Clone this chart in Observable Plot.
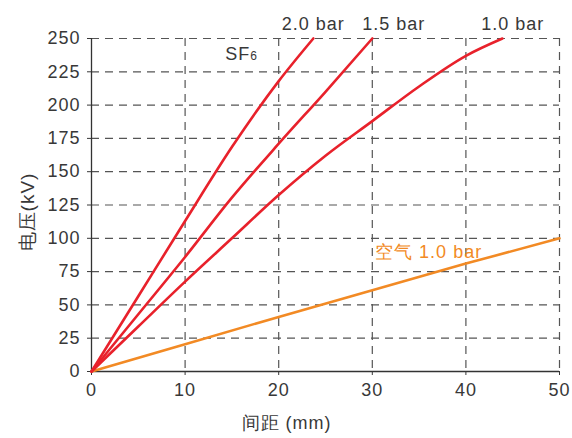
<!DOCTYPE html>
<html><head><meta charset="utf-8">
<script src="https://cdn.jsdelivr.net/npm/d3@7"></script>
<script src="https://cdn.jsdelivr.net/npm/@observablehq/plot@0.6"></script>
<style>
html,body{margin:0;padding:0;background:#fff;}
svg text{letter-spacing:1px;}
</style>
</head><body><div id="chart"></div>
<script>
// Tick values
const xTicks = [0, 10, 20, 30, 40, 50];
const yTicks = [0, 25, 50, 75, 100, 125, 150, 175, 200, 225, 250];

// SF6 2.0 bar
const sf6_20_gap = [0, 5, 10, 15, 20, 23.7];
const sf6_20_kv  = [0, 56.5, 113, 168.5, 218, 250];
// SF6 1.5 bar
const sf6_15_gap = [0, 5, 10, 15, 20, 25, 30];
const sf6_15_kv  = [0, 43, 86, 130.5, 171, 210, 250];
// SF6 1.0 bar
const sf6_10_gap = [0, 5, 10, 15, 20, 25, 30, 35, 40, 43.9];
const sf6_10_kv  = [0, 33.8, 67.5, 100, 132.5, 162, 188, 214, 237, 250];
// Air 1.0 bar
const air_gap = [0, 10, 20, 30, 40, 50];
const air_kv  = [0, 20.5, 41, 61, 81, 100];

// Labels
const pressureLabels = ["2.0 bar", "1.5 bar", "1.0 bar"];
const pressureLabelX = [23.7, 32.3, 45.0];
const airLabel = "空气 1.0 bar";
const xLabel = "间距 (mm)";
const yLabel = "电压(kV)";

const RED = "#e8212b";
const ORANGE = "#f28a24";
const TEXT = "#383838";

const rows = (g, v) => g.map((d, i) => ({gap: d, kv: v[i]}));

const plot = Plot.plot({
  width: 572,
  height: 438,
  marginLeft: 91,
  marginRight: 13,
  marginTop: 38,
  marginBottom: 67,
  style: {fontFamily: "'Liberation Sans', Arial, sans-serif", fontSize: "18px", color: TEXT, background: "#fff"},
  x: {domain: [0, 50]},
  y: {domain: [0, 250]},
  marks: [
    Plot.ruleY(yTicks.filter(d => d > 0), {stroke: "#555", strokeWidth: 1.2, strokeDasharray: "8,6"}),
    Plot.ruleX(xTicks.filter(d => d > 0), {stroke: "#555", strokeWidth: 1.2, strokeDasharray: "8,6"}),
    Plot.axisX({ticks: xTicks, tickSize: 4, tickPadding: 8, label: null, fontSize: 18}),
    Plot.axisY({ticks: yTicks, tickSize: 4, tickPadding: 7, label: null, fontSize: 18}),
    Plot.ruleX([0], {stroke: "#333", strokeWidth: 1.3}),
    Plot.ruleY([0], {stroke: "#333", strokeWidth: 1.3}),
    Plot.line(rows(air_gap, air_kv), {x: "gap", y: "kv", stroke: ORANGE, strokeWidth: 2.6}),
    Plot.line(rows(sf6_10_gap, sf6_10_kv), {x: "gap", y: "kv", stroke: RED, strokeWidth: 2.6, curve: "monotone-x"}),
    Plot.line(rows(sf6_15_gap, sf6_15_kv), {x: "gap", y: "kv", stroke: RED, strokeWidth: 2.6, curve: "monotone-x"}),
    Plot.line(rows(sf6_20_gap, sf6_20_kv), {x: "gap", y: "kv", stroke: RED, strokeWidth: 2.6, curve: "monotone-x"}),
    Plot.text(pressureLabels, {x: (d, i) => pressureLabelX[i], y: () => 250, text: d => d, dy: -9, lineAnchor: "bottom", fill: TEXT, fontSize: 18}),
    Plot.text(["SF"], {x: () => 14.3, y: () => 234, text: d => d, textAnchor: "start", lineAnchor: "bottom", fill: TEXT, fontSize: 18}),
    Plot.text(["6"], {x: () => 16.95, y: () => 234, text: d => d, textAnchor: "start", lineAnchor: "bottom", fill: TEXT, fontSize: 12}),
    Plot.text([airLabel], {x: () => 30.3, y: () => 85.5, text: d => d, textAnchor: "start", lineAnchor: "bottom", fill: ORANGE, fontSize: 18}),
    Plot.text([xLabel], {frameAnchor: "bottom", text: d => d, textAnchor: "middle", dx: -39, dy: 57, fill: TEXT, fontSize: 18}),
    Plot.text([yLabel], {frameAnchor: "left", text: d => d, textAnchor: "middle", lineAnchor: "middle", rotate: -90, dx: -64, dy: 7, fill: TEXT, fontSize: 19})
  ]
});
document.getElementById("chart").appendChild(plot);
</script>
</body></html>
